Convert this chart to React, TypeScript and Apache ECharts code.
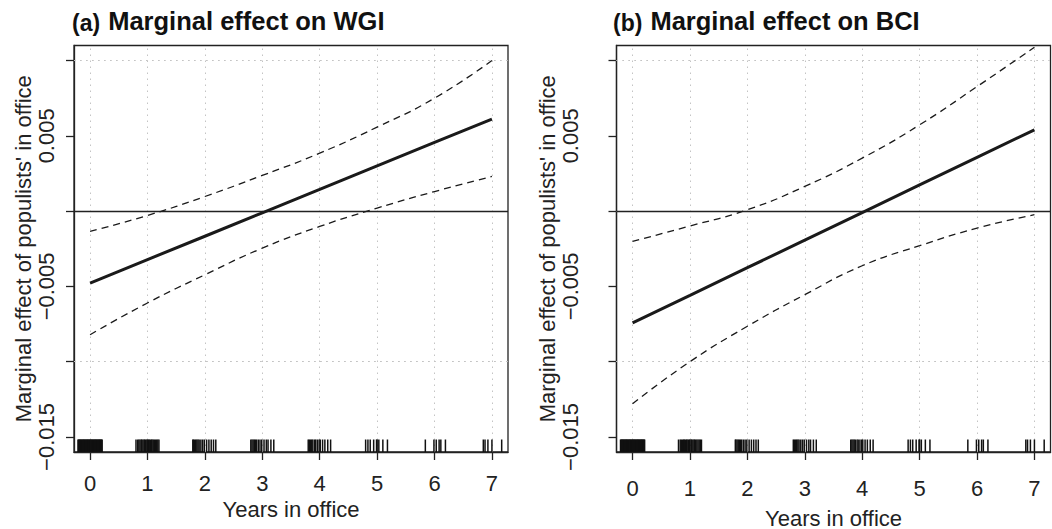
import React, { useEffect, useRef } from 'react';
import * as echarts from 'echarts';

// ---- data ----
const years = [0, 1, 2, 3, 4, 5, 6, 7];
const xTicks = [0, 1, 2, 3, 4, 5, 6, 7];
const yTicks = [-0.015, -0.01, -0.005, 0, 0.005, 0.01];
const yLabelValues = [-0.015, -0.005, 0.005];

const wgiEffect = [-0.00478, -0.00322, -0.00167, -0.00011, 0.00144, 0.003, 0.00456, 0.00611];
const wgiUpper = [-0.00135, -0.00029, 0.00097, 0.00237, 0.00385, 0.00558, 0.0075, 0.01];
const wgiLower = [-0.00821, -0.0061, -0.00423, -0.00246, -0.00102, 0.0002, 0.0013, 0.0023];

const bciEffect = [-0.00743, -0.0056, -0.00376, -0.00193, -0.0001, 0.00174, 0.00357, 0.0054];
const bciUpper = [-0.00201, -0.00099, 0.00009, 0.00164, 0.00352, 0.00573, 0.00827, 0.01088];
const bciLower = [-0.01279, -0.01, -0.00765, -0.00555, -0.00363, -0.0023, -0.00113, -0.00024];

// observed (jittered) years in office, shown as a rug
const rugYears = [
  -0.21, -0.2, -0.19, -0.18, -0.17, -0.16, -0.15, -0.14, -0.13, -0.12, -0.11, -0.1,
  -0.09, -0.08, -0.07, -0.06, -0.05, -0.04, -0.03, -0.02, -0.01, 0.0,
  0.01, 0.02, 0.03, 0.04, 0.05, 0.06, 0.07, 0.08, 0.09, 0.1, 0.11, 0.12,
  0.13, 0.14, 0.15, 0.16, 0.17, 0.18, 0.19, 0.2, 0.21,
  0.8, 0.83, 0.85, 0.87, 0.89, 0.9, 0.92, 0.94, 0.95, 0.97, 0.99, 1.0, 1.02, 1.03, 1.05, 1.07, 1.08, 1.1, 1.12, 1.14, 1.16, 1.18, 1.2,
  1.79, 1.8, 1.82, 1.84, 1.86, 1.88, 1.9, 1.93, 1.96, 1.99, 2.03, 2.07, 2.11, 2.15, 2.19,
  2.8, 2.82, 2.84, 2.86, 2.88, 2.9, 2.93, 2.96, 2.99, 3.03, 3.07, 3.1, 3.15, 3.2,
  3.8, 3.82, 3.84, 3.86, 3.88, 3.91, 3.93, 3.96, 3.99, 4.01, 4.05, 4.09, 4.14, 4.19,
  4.8, 4.84, 4.88, 4.94, 4.99, 5.0, 5.03, 5.1, 5.18,
  5.84, 5.99, 6.03, 6.08, 6.11, 6.19,
  6.85, 6.88, 6.93, 7.0, 7.17,
];

const titleTags = ['(a)', '(b)'];
const titleTexts = ['Marginal effect on WGI', 'Marginal effect on BCI'];
const xName = 'Years in office';
const yName = "Marginal effect of populists' in office";

const FONT = '"Liberation Sans", Arial, Helvetica, sans-serif';
const INK = '#222';
const X_MIN = -0.28;
const X_MAX = 7.28;
const Y_MIN = -0.016;
const Y_MAX = 0.011;

const fmtY = (v: number) => v.toFixed(3).replace('-', '\u2212');

export default function App() {
  const ref = useRef<HTMLDivElement>(null);
  useEffect(() => {
    if (!ref.current) return;
    const chart = echarts.init(ref.current, undefined, { renderer: 'svg' });

    const panels = [
      { eff: wgiEffect, up: wgiUpper, lo: wgiLower, left: 74, xMargin: 20, xGap: 44, yMargin: 17, yGap: 29, titleLeft: 72 },
      { eff: bciEffect, up: bciUpper, lo: bciLower, left: 616.5, xMargin: 25, xGap: 55, yMargin: 35, yGap: 41, titleLeft: 613 },
    ];
    const width = 434;
    const gridDot = { color: '#c4c4c4', width: 1, type: [1.5, 4.5] as any };

    const grids: any[] = [];
    const xAxes: any[] = [];
    const yAxes: any[] = [];
    const series: any[] = [];
    const titles: any[] = [];

    panels.forEach((p, i) => {
      grids.push({
        left: p.left, top: 45.5, width, height: 406.5,
        show: true, borderColor: INK, borderWidth: 1.3, backgroundColor: 'transparent',
        containLabel: false, outerBoundsMode: 'none',
      });
      xAxes.push({
        gridIndex: i, type: 'value', min: X_MIN, max: X_MAX,
        axisLine: { show: true, onZero: false, lineStyle: { color: INK, width: 1.3 } },
        axisTick: { show: true, inside: false, length: 8, customValues: xTicks, lineStyle: { color: INK, width: 1.3 } },
        axisLabel: { customValues: xTicks, margin: p.xMargin, fontSize: 22, color: INK, fontFamily: FONT },
        splitLine: { show: false },
        name: xName, nameLocation: 'middle', nameGap: p.xGap,
        nameTextStyle: { fontSize: 22, color: INK, fontFamily: FONT },
      });
      yAxes.push({
        gridIndex: i, type: 'value', min: Y_MIN, max: Y_MAX,
        axisLine: { show: true, onZero: false, lineStyle: { color: INK, width: 1.3 } },
        axisTick: { show: true, inside: false, length: 8, customValues: yTicks, lineStyle: { color: INK, width: 1.3 } },
        axisLabel: { customValues: yLabelValues, rotate: 90, margin: p.yMargin, fontSize: 22, color: INK, fontFamily: FONT, formatter: fmtY },
        splitLine: { show: false },
        name: yName, nameLocation: 'middle', nameGap: p.yGap, nameRotate: 90,
        nameTextStyle: { fontSize: 22, color: INK, fontFamily: FONT },
      });
      titles.push({
        left: p.titleLeft, top: 4, padding: 0,
        text: `{a|${titleTags[i]}}{b| ${titleTexts[i]}}`,
        textStyle: {
          rich: {
            a: { fontSize: 23, fontWeight: 'bold', color: '#111', fontFamily: FONT, verticalAlign: 'bottom', lineHeight: 30, padding: [0, 1, 0, 0] },
            b: { fontSize: 25.5, fontWeight: 'bold', color: '#111', fontFamily: FONT, verticalAlign: 'bottom', lineHeight: 30 },
          },
        },
      });
      series.push({
        type: 'line', xAxisIndex: i, yAxisIndex: i, z: 4,
        data: years.map((x, k) => [x, p.eff[k]]),
        symbol: 'none', lineStyle: { color: '#1a1a1a', width: 3 },
        markLine: {
          silent: true, symbol: 'none', z: 1, animation: false,
          label: { show: false },
          data: [
            ...xTicks.map((v) => ({ xAxis: v, lineStyle: gridDot })),
            ...yTicks.map((v) => ({ yAxis: v, lineStyle: gridDot })),
            { yAxis: 0, lineStyle: { color: INK, width: 1.3, type: 'solid' } },
          ],
        },
      });
      series.push({
        type: 'line', xAxisIndex: i, yAxisIndex: i, z: 3,
        data: years.map((x, k) => [x, p.up[k]]),
        smooth: true, symbol: 'none', lineStyle: { color: '#1a1a1a', width: 1.3, type: [7, 5] },
      });
      series.push({
        type: 'line', xAxisIndex: i, yAxisIndex: i, z: 3,
        data: years.map((x, k) => [x, p.lo[k]]),
        smooth: true, symbol: 'none', lineStyle: { color: '#1a1a1a', width: 1.3, type: [7, 5] },
      });
      series.push({
        type: 'custom', xAxisIndex: i, yAxisIndex: i, z: 3,
        data: rugYears.map((v) => [v, Y_MIN]),
        encode: { x: 0, y: 1 },
        renderItem: (params: any, api: any) => {
          const pt = api.coord([api.value(0), Y_MIN]);
          return {
            type: 'line',
            shape: { x1: pt[0], y1: pt[1], x2: pt[0], y2: pt[1] - 12.5 },
            style: { stroke: '#111', lineWidth: 1.5 },
          };
        },
      });
    });

    chart.setOption({
      animation: false,
      backgroundColor: '#ffffff',
      title: titles,
      grid: grids,
      xAxis: xAxes,
      yAxis: yAxes,
      series,
    });
    return () => chart.dispose();
  }, []);
  return <div ref={ref} style={{ position: 'fixed', left: 0, top: 0, width: 1052, height: 529 }} />;
}
